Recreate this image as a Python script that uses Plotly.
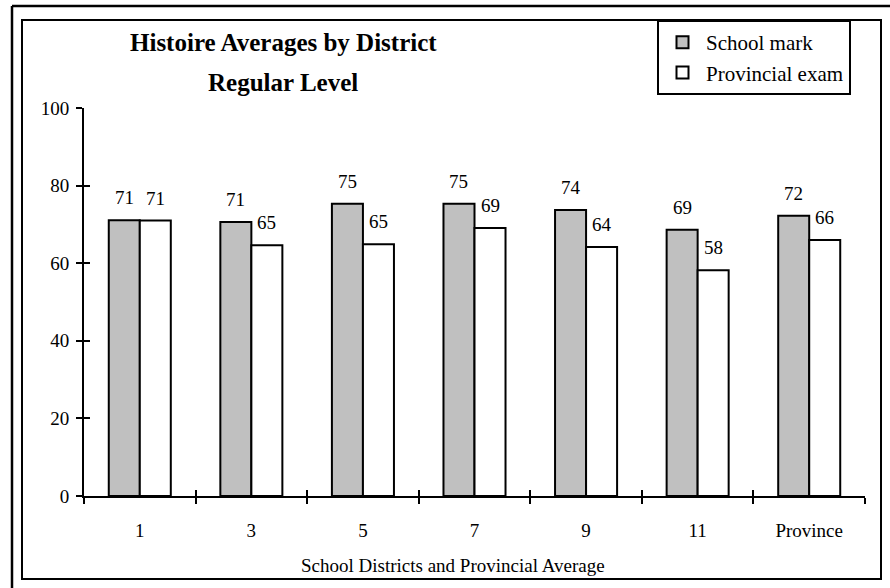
import plotly.graph_objects as go

categories = ["1", "3", "5", "7", "9", "11", "Province"]
school_mark = [71.1, 70.6, 75.3, 75.3, 73.7, 68.6, 72.2]
provincial_exam = [71.0, 64.6, 64.9, 69.1, 64.2, 58.2, 66.0]
y_ticks = [0, 20, 40, 60, 80, 100]

FONT = "Liberation Serif"
L, R, T, B = 84, 865, 108, 496
W, H = R - L, B - T


def px(x):
    return (x - L) / W


def py(y):
    return (B - y) / H


fig = go.Figure()
fig.add_trace(go.Bar(
    x=categories, y=school_mark, name="School mark",
    marker=dict(color="#C0C0C0", line=dict(color="black", width=2)),
    legendgroup="a",
))
fig.add_trace(go.Bar(
    x=categories, y=provincial_exam, name="Provincial exam",
    marker=dict(color="white", line=dict(color="black", width=2)),
    legendgroup="b",
))
# empty trace so the overlay axes (inside tick halves) are drawn
fig.add_trace(go.Scatter(x=[], y=[], xaxis="x2", yaxis="y2", showlegend=False, hoverinfo="skip"))

BARGAP = 0.444
bar_px = W / len(categories) * (1 - BARGAP) / 2
num_font = dict(family=FONT, size=19, color="black")
annotations = []
for i, (s, p) in enumerate(zip(school_mark, provincial_exam)):
    annotations.append(dict(x=i, y=s, xref="x", yref="y", text=f"{s:.0f}", showarrow=False,
                            xshift=-bar_px / 2, yshift=10, yanchor="bottom", font=num_font))
    annotations.append(dict(x=i, y=p, xref="x", yref="y", text=f"{p:.0f}", showarrow=False,
                            xshift=bar_px / 2, yshift=10, yanchor="bottom", font=num_font))

annotations += [
    dict(x=px(283), y=py(43), xref="paper", yref="paper", text="<b>Histoire Averages by District</b>",
         showarrow=False, xanchor="center", yanchor="middle", font=dict(family=FONT, size=25, color="black")),
    dict(x=px(283), y=py(82), xref="paper", yref="paper", text="<b>Regular Level</b>",
         showarrow=False, xanchor="center", yanchor="middle", font=dict(family=FONT, size=25, color="black")),
    dict(x=px(453), y=py(565), xref="paper", yref="paper", text="School Districts and Provincial Average",
         showarrow=False, xanchor="center", yanchor="middle", font=dict(family=FONT, size=19, color="black")),
]

shapes = [
    dict(type="rect", xref="paper", yref="paper", x0=px(22), x1=px(881), y0=py(579), y1=py(20),
         line=dict(color="black", width=2), layer="below"),
    dict(type="line", xref="paper", yref="paper", x0=px(12), x1=px(12), y0=py(6), y1=py(600),
         line=dict(color="black", width=2.5)),
    dict(type="line", xref="paper", yref="paper", x0=px(12), x1=px(900), y0=py(6), y1=py(6),
         line=dict(color="black", width=2.5)),
]

fig.update_layout(
    width=890, height=588,
    margin=dict(l=L, r=890 - R, t=T, b=588 - B, autoexpand=False),
    paper_bgcolor="white", plot_bgcolor="white",
    barmode="group", bargap=BARGAP, bargroupgap=0,
    font=dict(family=FONT, size=19, color="black"),
    showlegend=True,
    legend=dict(x=px(657), y=py(20), xanchor="left", yanchor="top",
                bordercolor="black", borderwidth=2, bgcolor="white",
                font=dict(family=FONT, size=21, color="black"),
                tracegroupgap=3, traceorder="normal", itemwidth=37),
    xaxis=dict(type="category", showgrid=False, zeroline=False,
               showline=True, linecolor="black", linewidth=2,
               ticks="outside", tickson="boundaries", ticklen=6, tickwidth=2, tickcolor="black",
               ticklabelstandoff=16, tickfont=num_font,
               range=[-0.5, len(categories) - 0.5]),
    yaxis=dict(range=[0, 100], tickvals=y_ticks, showgrid=False, zeroline=False,
               showline=True, linecolor="black", linewidth=2,
               ticks="outside", ticklen=6, tickwidth=2, tickcolor="black",
               ticklabelstandoff=3, tickfont=num_font),
    xaxis2=dict(overlaying="x", anchor="y", side="bottom", range=[0, len(categories)],
                tick0=0, dtick=1, ticks="inside", ticklen=6, tickwidth=2, tickcolor="black",
                showticklabels=False, showgrid=False, zeroline=False, showline=False),
    yaxis2=dict(overlaying="y", anchor="x", side="left", range=[0, 100], tickvals=y_ticks,
                ticks="inside", ticklen=6, tickwidth=2, tickcolor="black",
                showticklabels=False, showgrid=False, zeroline=False, showline=False),
    annotations=annotations,
    shapes=shapes,
)

fig.write_html("out.html", config={"displayModeBar": False},
               post_script="document.body.style.margin='0px';")
